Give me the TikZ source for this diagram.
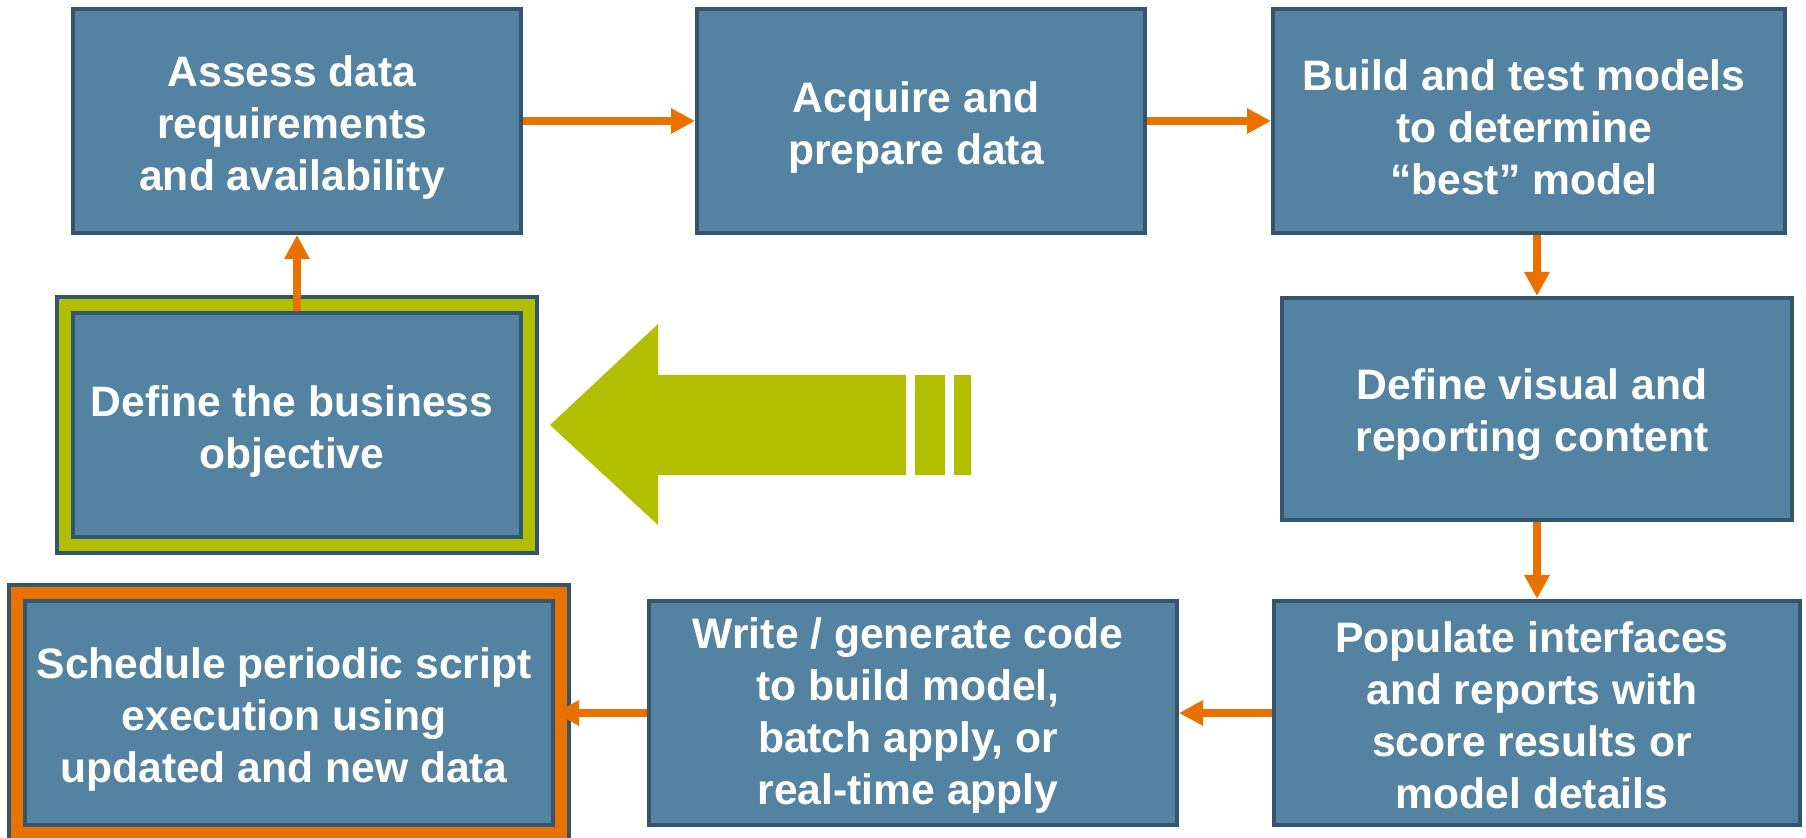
\documentclass[tikz,border=0pt]{standalone}
\usepackage{fontspec}
\setmainfont{Liberation Sans}
\usetikzlibrary{arrows.meta}

\definecolor{boxfill}{RGB}{83,131,161}
\definecolor{boxline}{RGB}{52,85,110}
\definecolor{flow}{RGB}{232,113,0}
\definecolor{lime}{RGB}{178,190,0}

\tikzset{
  stage/.style={draw=boxline, fill=boxfill, line width=2pt, inner sep=0pt},
  txt/.style={text=white, align=center, inner sep=0pt,
    xshift=-2.5pt, yshift=-3pt,
    font=\fontsize{21.3}{26}\selectfont\bfseries},
  frame/.style={draw=boxline, line width=2pt, inner sep=0pt},
  link/.style={draw=flow, line width=4pt,
    -{Triangle[length=12pt,width=12pt]}},
}

\begin{document}
\begin{tikzpicture}[x=0.5pt,y=-0.5pt]
\useasboundingbox (0,0) rectangle (1806,838);

% highlight frames behind the start and end steps
\node[frame, fill=lime, minimum width=240pt, minimum height=128pt] (startframe) at (297,425) {};
\node[frame, fill=flow, minimum width=280pt, minimum height=128pt] (endframe) at (289,713) {};

% process steps
\node[stage, minimum width=224pt, minimum height=112pt,
  label={[txt]center:{Assess data\\requirements\\and availability}}] (assess) at (297,121) {};
\node[stage, minimum width=224pt, minimum height=112pt,
  label={[txt]center:{Acquire and\\prepare data}}] (acquire) at (921,121) {};
\node[stage, minimum width=256pt, minimum height=112pt,
  label={[txt]center:{Build and test models\\to determine\\“best” model}}] (build) at (1529,121) {};
\node[stage, minimum width=255pt, minimum height=111pt,
  label={[txt]center:{Define visual and\\reporting content}}] (visual) at (1537,409) {};
\node[stage, minimum width=263pt, minimum height=112pt,
  label={[txt,yshift=2pt]center:{Populate interfaces\\and reports with\\score results or\\model details}}] (populate) at (1537,713) {};
\node[stage, minimum width=264pt, minimum height=112pt,
  label={[txt,yshift=2pt]center:{Write / generate code\\to build model,\\batch apply, or\\real-time apply}}] (write) at (913,713) {};
\node[stage, minimum width=264pt, minimum height=112pt,
  label={[txt]center:{Schedule periodic script\\execution using\\updated and new data}}] (schedule) at (289,713) {};
\node[stage, minimum width=224pt, minimum height=112pt,
  label={[txt]center:{Define the business\\objective}}] (objective) at (297,425) {};

% large return arrow
\fill[lime] (550,425) -- (658,324) -- (658,375) -- (906,375) -- (906,475)
  -- (658,475) -- (658,525) -- cycle;
\fill[lime] (915,375) rectangle (945,475);
\fill[lime] (954,375) rectangle (971,475);

% flow connectors
\draw[link] (objective.north) -- (assess.south);
\draw[link] (assess.east) -- (acquire.west);
\draw[link] (acquire.east) -- (build.west);
\draw[link] (build.south -| visual.north) -- (visual.north);
\draw[link] (visual.south) -- (populate.north);
\draw[link] (populate.west) -- (write.east);
\draw[link] (write.west) -- (schedule.east);
\end{tikzpicture}
\end{document}
